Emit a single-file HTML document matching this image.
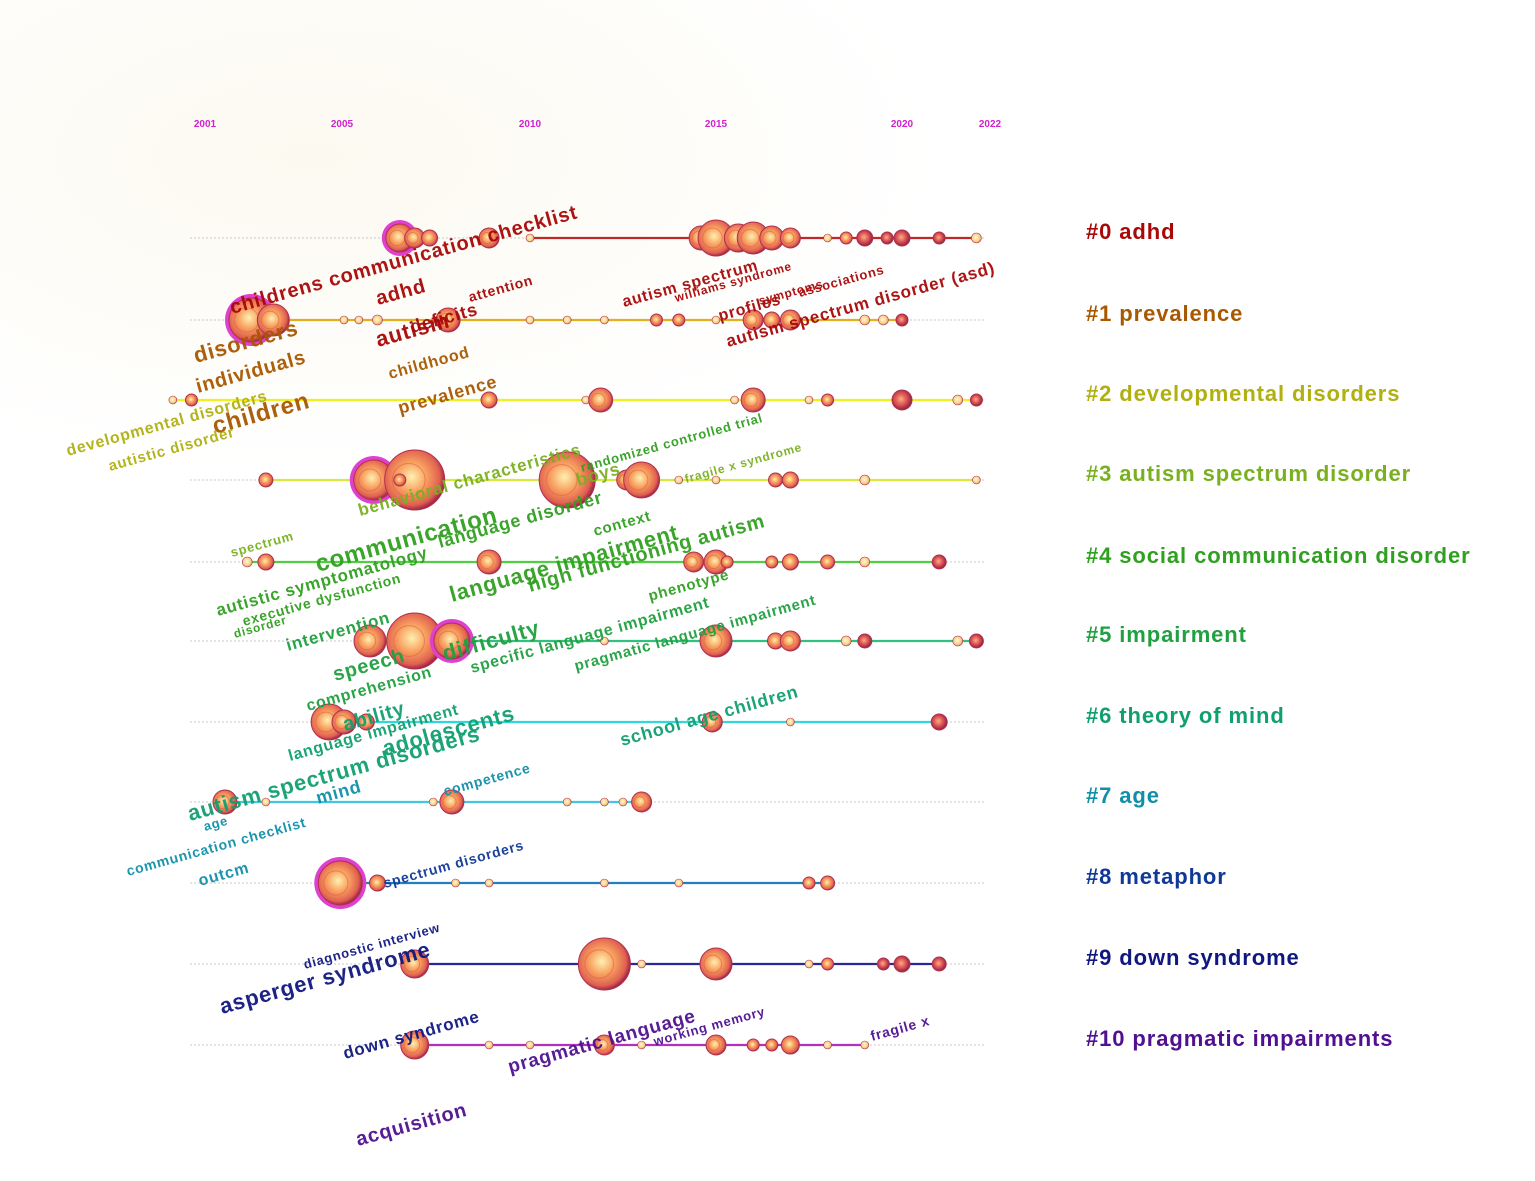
<!DOCTYPE html>
<html><head><meta charset="utf-8"><style>
html,body{margin:0;padding:0;background:#fff;}
svg{display:block;font-family:"Liberation Sans",Arial,sans-serif;}
</style></head><body>
<svg id="chart" width="1535" height="1181" viewBox="0 0 1535 1181">
<defs>
<radialGradient id="gA" cx="45%" cy="45%" r="55%"><stop offset="0" stop-color="#fff0b0"/><stop offset="0.45" stop-color="#f8a060"/><stop offset="0.85" stop-color="#e06050"/><stop offset="1" stop-color="#a02848"/></radialGradient>
<radialGradient id="gB" cx="45%" cy="45%" r="55%"><stop offset="0" stop-color="#f8b080"/><stop offset="0.5" stop-color="#e05858"/><stop offset="1" stop-color="#902040"/></radialGradient>
<radialGradient id="gC" cx="45%" cy="45%" r="55%"><stop offset="0" stop-color="#fff8d0"/><stop offset="0.7" stop-color="#f8d090"/><stop offset="1" stop-color="#d09050"/></radialGradient>
<radialGradient id="bgGlow" cx="30%" cy="30%" r="60%"><stop offset="0" stop-color="#fcf9f0"/><stop offset="1" stop-color="#ffffff"/></radialGradient>
</defs>
<rect x="0" y="0" width="1535" height="1181" fill="#fff"/>
<rect x="0" y="0" width="1040" height="520" fill="url(#bgGlow)"/>
<g id="axis"></g><g id="lines"></g><g id="nodes"></g><g id="labels"></g><g id="clusters"></g>
</svg>
<script>
const yearTicks = [2001, 2005, 2010, 2015, 2020, 2022];
const tickPos = [205, 342, 530, 716, 902, 990];
const clusterNames = ["#0 adhd","#1 prevalence","#2 developmental disorders","#3 autism spectrum disorder","#4 social communication disorder","#5 impairment","#6 theory of mind","#7 age","#8 metaphor","#9 down syndrome","#10 pragmatic impairments"];
const clusterColors = ["#a80808","#a85800","#b0b010","#7ab020","#30a020","#20a040","#10a070","#1090a8","#103898","#101880","#501090"];
const lineColors = ["#c02828","#e0b020","#f0f020","#d8e840","#50d040","#30c080","#30d8d8","#40c8e0","#2080c0","#28289a","#b030c0"];
const rowStartYear = [2010,2002.5,2000.4,2002.9,2002.4,2005.7,2004.6,2001.8,2004.9,2006.9,2006.9];
const rowEndYear = [2022,2020,2022,2022,2021,2022,2021,2013,2018,2021,2019];
// nodes per cluster: [year, size]
const nodes0 = [[2006.5,14],[2006.9,10],[2007.3,8],[2008.9,10],[2010,4],[2014.6,12],[2015,18],[2015.6,14],[2016,16],[2016.5,12],[2017,10],[2018,4],[2018.5,6],[2019,8],[2019.6,6],[2020,8],[2021,6],[2022,5]];
const nodes1 = [[2002.5,22],[2003.1,16],[2005,4],[2005.4,4],[2005.9,5],[2007.8,12],[2010,4],[2011,4],[2012,4],[2013.4,6],[2014,6],[2015,4],[2016,10],[2016.5,8],[2017,10],[2019,5],[2019.5,5],[2020,6]];
const nodes2 = [[2000.4,4],[2000.9,6],[2008.9,8],[2011.5,4],[2011.9,12],[2015.5,4],[2016,12],[2017.5,4],[2018,6],[2020,10],[2021.5,5],[2022,6]];
const nodes3 = [[2002.9,7],[2005.8,20],[2006.9,30],[2006.5,6],[2011,28],[2012.6,10],[2013,18],[2014,4],[2015,4],[2016.6,7],[2017,8],[2019,5],[2022,4]];
const nodes4 = [[2002.4,5],[2002.9,8],[2008.9,12],[2014.4,10],[2015,12],[2015.3,6],[2016.5,6],[2017,8],[2018,7],[2019,5],[2021,7]];
const nodes5 = [[2005.7,16],[2006.9,28],[2007.9,18],[2012,4],[2015,16],[2016.6,8],[2017,10],[2018.5,5],[2019,7],[2021.5,5],[2022,7]];
const nodes6 = [[2004.6,18],[2005,12],[2005.6,8],[2014.9,10],[2017,4],[2021,8]];
const nodes7 = [[2001.8,12],[2002.9,4],[2007.4,4],[2007.9,12],[2011,4],[2012,4],[2012.5,4],[2013,10]];
const nodes8 = [[2004.9,22],[2005.9,8],[2008,4],[2008.9,4],[2012,4],[2014,4],[2017.5,6],[2018,7]];
const nodes9 = [[2006.9,14],[2012,26],[2013,4],[2015,16],[2017.5,4],[2018,6],[2019.5,6],[2020,8],[2021,7]];
const nodes10 = [[2006.9,14],[2008.9,4],[2010,4],[2012,10],[2013,4],[2015,10],[2016,6],[2016.5,6],[2017,9],[2018,4],[2019,4]];
const allNodes = [nodes0,nodes1,nodes2,nodes3,nodes4,nodes5,nodes6,nodes7,nodes8,nodes9,nodes10];
const burstNodes = [[0,0],[1,0],[3,1],[5,2],[8,0]];
// labels: [text, x, y, fontSize, cluster]
const labelData = [
["childrens communication checklist",232,314,20,0],["adhd",378,305,20,0],["autism",378,347,22,0],["deficits",412,333,18,0],["attention",470,302,14,0],
["autism spectrum",624,307,16,0],["williams syndrome",676,302,12,0],["profiles",720,321,16,0],["symptoms",760,305,12,0],["associations",800,297,13,0],
["autism spectrum disorder (asd)",728,347,17,0],
["disorders",196,363,22,1],["individuals",198,393,20,1],["childhood",390,379,16,1],["prevalence",400,414,18,1],["children",215,434,24,1],
["developmental disorders",68,456,16,2],["autistic disorder",110,471,15,2],
["behavioral characteristics",360,516,17,3],["randomized controlled trial",582,472,13,4],["fragile x syndrome",686,483,12,3],["boys",578,486,18,3],
["spectrum",232,557,13,3],["communication",318,572,24,4],["autistic symptomatology",218,616,17,4],["language disorder",440,548,18,4],["executive dysfunction",244,626,14,4],["disorder",235,638,12,4],
["language impairment",452,602,22,4],["high functioning autism",530,592,20,4],["context",595,536,15,4],["phenotype",650,601,15,4],
["intervention",288,651,17,5],["speech",335,681,20,5],["difficulty",445,661,22,5],["comprehension",308,711,16,5],["specific language impairment",472,673,16,5],["pragmatic language impairment",576,671,15,5],
["ability",345,731,20,6],["language impairment",290,761,16,6],["adolescents",385,756,22,6],["autism spectrum disorders",190,821,22,6],["school age children",622,746,18,6],
["mind",318,804,18,7],["competence",445,796,14,7],["age",205,831,13,7],["communication checklist",128,876,14,7],["outcm",200,886,16,7],
["spectrum disorders",385,888,14,8],
["diagnostic interview",305,969,13,9],["asperger syndrome",222,1014,22,9],
["down syndrome",345,1059,17,9],["pragmatic language",510,1073,19,10],["working memory",655,1046,13,10],["fragile x",872,1041,14,10],["acquisition",358,1146,20,10]
];
const rowY = [238,320,400,480,562,641,722,802,883,964,1045];
const NS = "http://www.w3.org/2000/svg";
function xScale(yr){ return 530 + (yr-2010)*37.2; }
function mk(tag, attrs, parent){ const e=document.createElementNS(NS,tag); for(const k in attrs) e.setAttribute(k,attrs[k]); parent.appendChild(e); return e; }
const gAxis=document.getElementById('axis'), gLines=document.getElementById('lines'), gNodes=document.getElementById('nodes'), gLabels=document.getElementById('labels'), gClusters=document.getElementById('clusters');
yearTicks.forEach((y,i)=>{
  const t=mk('text',{x:tickPos[i],y:127,'font-size':10,'font-weight':'bold',fill:'#d020d0','text-anchor':'middle'},gAxis);
  t.textContent=y;
  
  
});
rowY.forEach((y,i)=>{
  const d=mk('line',{x1:190,y1:y,x2:985,y2:y,stroke:'#c8c8c8','stroke-width':1,'stroke-dasharray':'2,2'},gLines);
  
  
  const l=mk('line',{x1:xScale(rowStartYear[i]),y1:y,x2:xScale(rowEndYear[i]),y2:y,stroke:lineColors[i],'stroke-width':2.2},gLines);
  
  
  const c=mk('text',{x:1086,y:y+1,'font-size':22,'font-weight':'bold','letter-spacing':'0.9',fill:clusterColors[i]},gClusters);
  c.textContent=clusterNames[i];
  
  
});
allNodes.forEach((arr,ci)=>{
  arr.forEach((n,ni)=>{
    const cx=xScale(n[0]), cy=rowY[ci], r=n[1];
    const burst=burstNodes.some(b=>b[0]===ci&&b[1]===ni);
    if(burst){
      const h=mk('circle',{cx:cx,cy:cy,r:r+4,fill:'#e040d0'},gNodes);
      
      
    }
    const fill = r<=5 ? 'url(#gC)' : (n[0]>2018.5 ? 'url(#gB)' : 'url(#gA)');
    const c=mk('circle',{cx:cx,cy:cy,r:r,fill:fill,stroke:'#b03050','stroke-width':r>5?1:0.6},gNodes);
    
    
    if(r>=10){
      const inner=mk('circle',{cx:cx-r*0.2,cy:cy,r:r*0.55,fill:'none',stroke:'#e06040','stroke-width':1,opacity:0.6},gNodes);
      
      
    }
  });
});
labelData.forEach(d=>{
  const t=mk('text',{x:d[1],y:d[2],'font-size':d[3],'font-weight':'bold','letter-spacing':'0.8',fill:clusterColors[d[4]],transform:'rotate(-15.5 '+d[1]+' '+d[2]+')',opacity:0.95},gLabels);
  t.textContent=d[0];
  
  
});
</script>
</body></html>
